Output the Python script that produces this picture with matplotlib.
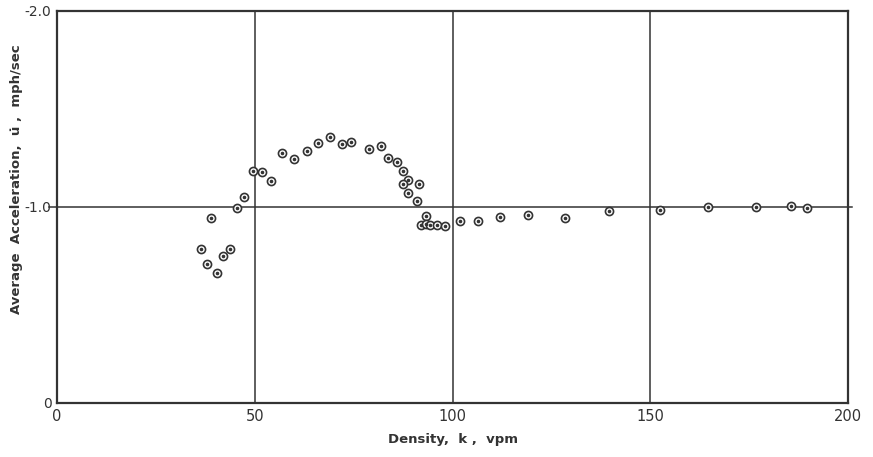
import matplotlib
matplotlib.use("Agg")
import matplotlib.pyplot as plt

# density (vpm) and average acceleration (mph/sec)
density = [36.5, 38.0, 38.9, 40.4, 42.0, 43.8, 45.6, 47.3, 49.6, 51.9,
           54.1, 56.8, 60.0, 63.3, 66.0, 69.1, 72.0, 74.3, 79.0, 82.0,
           83.7, 85.9, 87.4, 88.7, 87.6, 91.5, 88.7, 91.0, 93.3, 92.1,
           93.3, 94.3, 96.0, 98.0, 102.0, 106.5, 112.1, 119.0, 128.5, 139.5,
           152.4, 164.5, 176.7, 185.6, 189.6]
accel = [-0.787, -0.707, -0.945, -0.665, -0.752, -0.787, -0.996, -1.05, -1.186, -1.176,
         -1.134, -1.274, -1.243, -1.288, -1.325, -1.355, -1.323, -1.330, -1.294, -1.309,
         -1.252, -1.232, -1.184, -1.138, -1.118, -1.115, -1.072, -1.028, -0.953, -0.906,
         -0.915, -0.906, -0.906, -0.901, -0.927, -0.930, -0.949, -0.959, -0.945, -0.982,
         -0.984, -0.999, -0.999, -1.005, -0.994]

x_ticks = [0, 50, 100, 150, 200]
x_ticklabels = ["0", "50", "100", "150", "200"]
y_ticks = [0, -1.0, -2.0]
y_ticklabels = ["0", "-1.0", "-2.0"]

ink = "#333333"

fig = plt.figure(figsize=(8.73, 4.57), dpi=100)
ax = fig.add_axes([0.0653, 0.1182, 0.9061, 0.8578])

# grid lines at the labelled ticks
for xv in x_ticks[1:-1]:
    ax.axvline(xv, color=ink, lw=1.1, zorder=1)
ax.plot([-2, 201], [-1.0, -1.0], color=ink, lw=1.1, zorder=1, clip_on=False)

ax.scatter(density, accel, s=34, facecolors="white", edgecolors=ink,
           linewidths=1.2, zorder=3)
ax.scatter(density, accel, s=2.5, color=ink, zorder=4)

ax.set_xlim(0, 200)
ax.set_ylim(0, -2.0)
ax.set_xticks(x_ticks)
ax.set_xticklabels(x_ticklabels, fontsize=10.5, color=ink)
ax.set_yticks(y_ticks)
ax.set_yticklabels(y_ticklabels, fontsize=10, color=ink)
ax.tick_params(length=0, pad=4)

for sp in ax.spines.values():
    sp.set_linewidth(1.6)
    sp.set_color(ink)

ax.set_xlabel("Density,  k ,  vpm", fontsize=9.5, fontweight="bold", color=ink, labelpad=7)
ax.set_ylabel("Average  Acceleration,  u\u0307 ,  mph/sec", fontsize=9.5,
              fontweight="bold", color=ink)
ax.yaxis.set_label_coords(-0.043, 0.57)

fig.savefig("out.png", dpi=100)
